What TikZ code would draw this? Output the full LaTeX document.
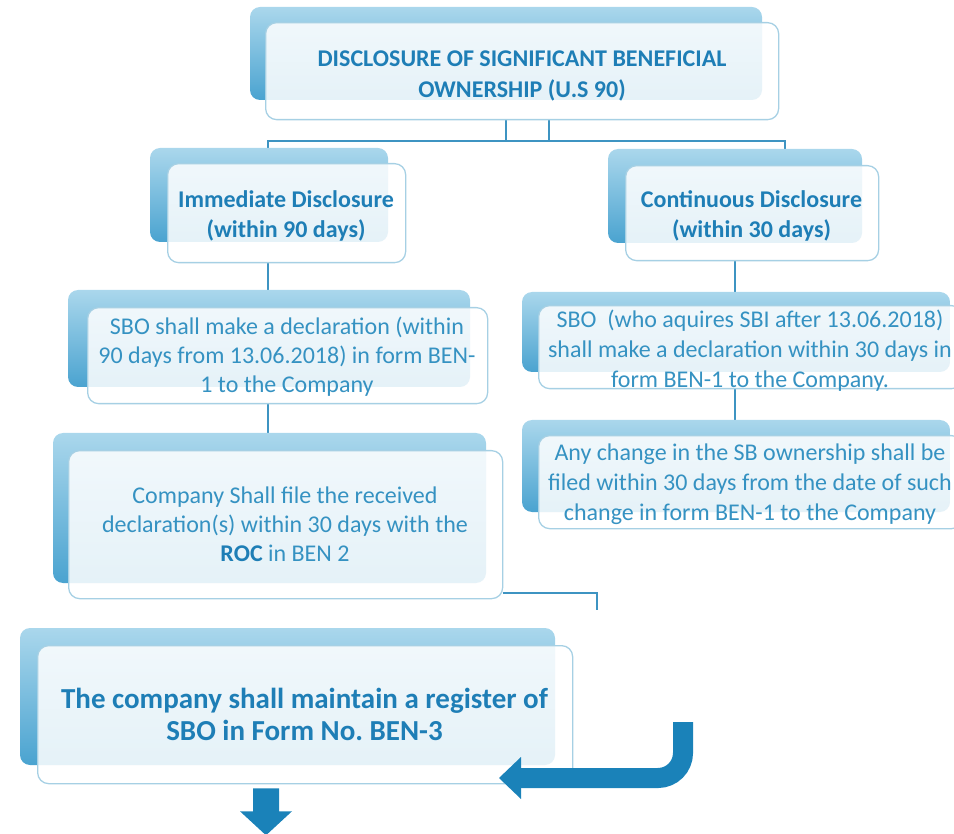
\documentclass[tikz,border=0pt]{standalone}
\usepackage{fontspec}
\setmainfont{Carlito}
\frenchspacing
\usetikzlibrary{backgrounds}

\definecolor{txtblue}{HTML}{3592C2}
\definecolor{boldblue}{HTML}{1E7EB6}
\definecolor{backtop}{HTML}{AAD7EC}
\definecolor{backbot}{HTML}{4AA3D0}
\definecolor{frameblue}{HTML}{A6D0E4}
\definecolor{linkblue}{HTML}{3E94C2}
\definecolor{arrowblue}{HTML}{1A82B9}

\tikzset{
  backbox/.style={rounded corners=10pt, top color=backtop, bottom color=backbot, draw=none},
  frontbox/.style={draw=frameblue, line width=1.3pt, rounded corners=11pt, fill=white,
    fill opacity=0.86, inner sep=0pt, anchor=north west},
  plaintext/.style={text=txtblue, align=center, inner sep=0pt, font=\fontsize{24}{29}\selectfont},
  widetext/.style={plaintext, font=\fontsize{24}{30}\selectfont},
  boldtext/.style={text=boldblue, align=center, inner sep=0pt, font=\fontsize{24}{29.5}\selectfont\bfseries},
  link/.style={draw=linkblue, line width=2pt},
  bigarrow/.style={draw=arrowblue, line width=20pt, rounded corners=25pt},
}

\begin{document}
\begin{tikzpicture}[x=1pt,y=-1pt]
\useasboundingbox (0,0) rectangle (954,834);
\clip (0,0) rectangle (954,834);

% back plates
\path[backbox] (250,7)   rectangle (762,100);
\path[backbox] (150,148) rectangle (388,242);
\path[backbox] (608,149) rectangle (862,243);
\path[backbox] (68,290)  rectangle (470,387);
\path[backbox] (522,292) rectangle (950,372);
\path[backbox] (522,420) rectangle (950,512);
\path[backbox] (53,433)  rectangle (486,583);
\path[backbox] (20,628)  rectangle (555,765);

% front cards
\node[frontbox, minimum width=513pt, minimum height=97pt]  (top)  at (265,22)  {};
\node[frontbox, minimum width=238pt, minimum height=99pt]  (imm)  at (167,163) {};
\node[frontbox, minimum width=253pt, minimum height=95pt]  (cont) at (625,165) {};
\node[frontbox, minimum width=400pt, minimum height=96pt]  (sbol) at (87,307)  {};
\node[frontbox, minimum width=424pt, minimum height=83pt]  (sbor) at (538,305) {};
\node[frontbox, minimum width=424pt, minimum height=93pt]  (any)  at (538,435) {};
\node[frontbox, minimum width=434pt, minimum height=148pt] (comp) at (68,450)  {};
\node[frontbox, minimum width=535pt, minimum height=138pt] (fin)  at (37,645)  {};

% card texts
\node[boldtext, font=\fontsize{24}{31}\selectfont\bfseries] (topt) at (522,75.5)
  {DISCLOSURE OF SIGNIFICANT BENEFICIAL\\OWNERSHIP (U.S 90)};
\node[boldtext] (immt)  at (286,216) {Immediate Disclosure\\(within 90 days)};
\node[boldtext] (contt) at (751.5,216) {Continuous Disclosure\\(within 30 days)};
\node[plaintext] (sbolt) at (287,356.5)
  {SBO shall make a declaration (within\\90 days from 13.06.2018) in form BEN-\\1 to the Company};
\node[widetext] (sbort) at (750,351)
  {SBO\ \ (who aquires SBI after 13.06.2018)\\shall make a declaration within 30 days in\\form BEN-1 to the Company.};
\node[widetext] (anyt) at (750,484.5)
  {Any change in the SB ownership shall be\\filed within 30 days from the date of such\\change in form BEN-1 to the Company};
\node[plaintext] (compt) at (285,524)
  {Company Shall file the received\\declaration(s) within 30 days with the\\{\color{boldblue}\bfseries ROC} in BEN 2};
\node[boldtext, font=\fontsize{29}{32}\selectfont\bfseries] (fint) at (304.5,714)
  {The company shall maintain a register of\\SBO in Form No. BEN-3};

% junction points of the tree
\coordinate (jl) at (268,141);
\coordinate (jr) at (785,141);
\coordinate (ja) at (506,141);
\coordinate (jb) at (549,141);
\coordinate (jc) at (735,0);
\coordinate (jd) at (597,610);

\begin{scope}[on background layer]
  \draw[link] (top.south -| ja) -- (ja);
  \draw[link] (top.south -| jb) -- (jb);
  \draw[link] (jl |- imm.north) -- (jl) -- (jr) -- (jr |- cont.north);
  \draw[link] (imm.south -| jl) -- (sbol.north -| jl);
  \draw[link] (sbol.south -| jl) -- (comp.north -| jl);
  \draw[link] (cont.south -| jc) -- (sbor.north -| jc);
  \draw[link] (sbor.south -| jc) -- (any.north -| jc);
\end{scope}
\draw[link] ([yshift=6pt]comp.south east) -| (jd);

% bent arrow into the register card
\coordinate (a0) at (683,722);
\coordinate (a1) at (521,778);
\draw[bigarrow] (a0) |- (a1);
\fill[arrowblue] (a1) ++(0,-21) -- ++(-22,21) -- ++(22,21) -- cycle;

% arrow leaving the register card
\coordinate (d0) at (fin.south -| 266,0);
\fill[arrowblue] (d0) ++(-13,4) -- ++(26,0) -- ++(0,23) -- ++(13,0)
  -- ++(-26,24) -- ++(-26,-24) -- ++(13,0) -- cycle;
\end{tikzpicture}
\end{document}
